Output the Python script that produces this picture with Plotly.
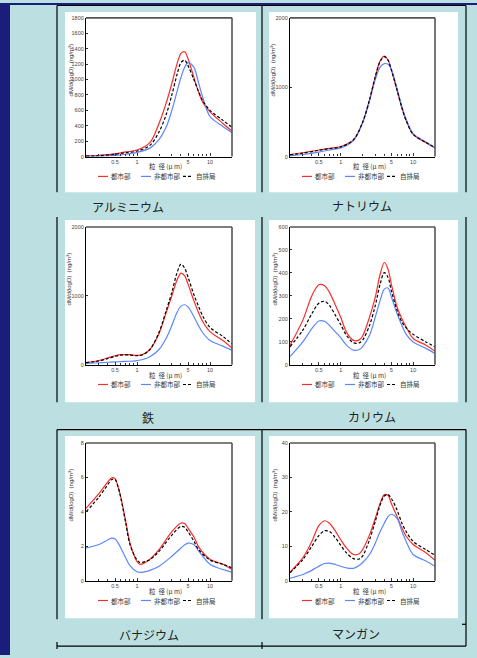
import math
import plotly.graph_objects as go

# ---------------- data: mass size distributions dM/d(logD) ----------------
# Aluminium
AL_D = [0.2, 0.3, 0.5, 0.7, 1, 1.5, 2, 2.5, 3, 3.5, 4, 4.5, 5, 6, 7, 8, 10, 15, 20]
AL_URBAN = [8, 16, 35, 60, 85, 180, 430, 690, 950, 1190, 1340, 1360, 1270, 1030, 830, 700, 580, 430, 330]
AL_RURAL = [2, 6, 15, 30, 55, 110, 220, 380, 600, 830, 1030, 1160, 1220, 1160, 950, 760, 520, 390, 310]
AL_ROADSIDE = [6, 12, 30, 50, 72, 145, 320, 540, 800, 1050, 1220, 1250, 1180, 1000, 840, 720, 600, 470, 380]

# Sodium
NA_D = [0.2, 0.3, 0.5, 0.7, 1, 1.5, 2, 2.5, 3, 3.5, 4, 4.5, 5, 6, 7, 8, 10, 15, 20]
NA_URBAN = [30, 55, 95, 120, 145, 240, 490, 820, 1150, 1380, 1450, 1390, 1250, 950, 700, 520, 320, 200, 125]
NA_RURAL = [10, 30, 65, 95, 125, 230, 480, 800, 1110, 1290, 1340, 1330, 1260, 980, 720, 540, 330, 210, 130]
NA_ROADSIDE = [25, 50, 90, 115, 140, 240, 490, 820, 1150, 1370, 1440, 1390, 1250, 960, 700, 520, 320, 205, 130]

# Iron
FE_D = [0.2, 0.3, 0.4, 0.5, 0.6, 0.8, 1, 1.2, 1.5, 2, 2.5, 3, 3.5, 4, 4.5, 5, 6, 7, 8, 10, 15, 20]
FE_URBAN = [30, 60, 100, 130, 145, 145, 135, 150, 220, 450, 750, 1000, 1220, 1330, 1290, 1170, 930, 750, 620, 480, 350, 240]
FE_RURAL = [20, 28, 35, 40, 45, 50, 60, 75, 115, 220, 380, 570, 750, 850, 870, 840, 700, 560, 460, 350, 270, 210]
FE_ROADSIDE = [30, 55, 90, 120, 140, 140, 130, 145, 220, 470, 780, 1050, 1320, 1460, 1400, 1270, 1020, 840, 700, 540, 410, 300]

# Potassium
K_D = [0.2, 0.3, 0.4, 0.5, 0.6, 0.7, 0.85, 1, 1.2, 1.5, 1.8, 2, 2.5, 3, 3.5, 4, 4.5, 5, 6, 7, 8, 10, 15, 20]
K_URBAN = [85, 193, 300, 348, 344, 315, 258, 207, 142, 106, 108, 124, 207, 294, 394, 445, 416, 351, 250, 200, 164, 114, 85, 59]
K_RURAL = [35, 99, 157, 190, 189, 171, 142, 118, 85, 63, 66, 78, 128, 207, 279, 329, 334, 296, 222, 171, 132, 99, 71, 49]
K_ROADSIDE = [78, 150, 222, 268, 276, 258, 214, 175, 128, 95, 95, 106, 171, 257, 351, 401, 380, 322, 236, 186, 160, 132, 99, 78]

# Vanadium
V_D = [0.2, 0.3, 0.4, 0.45, 0.5, 0.55, 0.6, 0.7, 0.8, 1, 1.1, 1.5, 2, 3, 4, 4.5, 5, 6, 7, 10, 15, 20]
V_URBAN = [4.2, 5.05, 5.75, 5.98, 5.93, 5.45, 4.85, 3.45, 2.2, 1.1, 0.95, 1.25, 1.8, 2.85, 3.35, 3.32, 3.05, 2.55, 1.95, 1.25, 0.95, 0.65]
V_RURAL = [1.9, 2.1, 2.38, 2.47, 2.42, 2.2, 1.9, 1.32, 0.88, 0.52, 0.48, 0.6, 0.84, 1.42, 1.9, 2.08, 2.18, 2.1, 1.72, 0.95, 0.65, 0.5]
V_ROADSIDE = [4.0, 4.85, 5.6, 5.88, 5.88, 5.45, 4.8, 3.35, 2.1, 1.2, 1.05, 1.23, 1.7, 2.65, 3.15, 3.1, 2.85, 2.3, 1.8, 1.2, 0.95, 0.75]

# Manganese
MN_D = [0.2, 0.3, 0.4, 0.5, 0.6, 0.7, 0.85, 1, 1.2, 1.5, 1.8, 2, 2.5, 3, 3.5, 4, 4.5, 5, 6, 7, 8, 10, 15, 20]
MN_URBAN = [2.5, 6.6, 11.4, 16.0, 17.4, 16.7, 14.3, 11.9, 9.5, 7.6, 7.8, 9.0, 13.3, 18.1, 22.4, 25.0, 24.8, 22.4, 18.6, 15.3, 12.9, 10.5, 8.1, 5.9]
MN_RURAL = [0.7, 1.8, 3.0, 4.2, 5.0, 5.1, 4.7, 4.2, 3.7, 3.6, 4.4, 5.2, 7.6, 10.9, 14.3, 16.7, 18.6, 19.3, 18.1, 14.3, 11.4, 7.6, 5.7, 4.2]
MN_ROADSIDE = [2.3, 6.1, 10.0, 13.1, 14.5, 14.3, 12.4, 10.3, 8.1, 6.4, 6.3, 7.1, 11.9, 17.2, 22.0, 24.6, 25.0, 23.9, 20.5, 16.7, 14.3, 11.4, 9.0, 7.4]

ELEMENT_NAMES = ["アルミニウム", "ナトリウム", "鉄", "カリウム", "バナジウム", "マンガン"]
Y_MAX = [1800, 2000, 2000, 600, 8, 40]
Y_STEP = [200, 1000, 1000, 100, 2, 10]
SERIES_NAMES = ["都市部", "非都市部", "自排局"]
X_TICKS = [0.5, 1, 5, 10]
X_MINOR = [0.3, 0.4, 0.6, 0.7, 0.8, 0.9, 2, 3, 4, 6, 7, 8, 9]
X_TITLE = "粒  径 (μ m)"
Y_TITLE = "dM/d(logD)  (ng/m<sup>3</sup>)"

DIAMETERS = [AL_D, NA_D, FE_D, K_D, V_D, MN_D]
URBAN = [AL_URBAN, NA_URBAN, FE_URBAN, K_URBAN, V_URBAN, MN_URBAN]
RURAL = [AL_RURAL, NA_RURAL, FE_RURAL, K_RURAL, V_RURAL, MN_RURAL]
ROADSIDE = [AL_ROADSIDE, NA_ROADSIDE, FE_ROADSIDE, K_ROADSIDE, V_ROADSIDE, MN_ROADSIDE]

# ---------------- page geometry (pixels) ----------------
W, H = 477, 658
BG = "#bce0e2"
NAVY = "#1b1d7a"
RED = "#ff2a2a"
BLUE = "#5a86ff"
JP = "Noto Sans CJK JP"
NUM = "Liberation Sans, Arial"
DASH = "3px,2px"

PLOT_BOX = [(86, 232, 15, 155), (290, 435, 15, 155),
            (86, 232, 226, 365), (290, 435, 226, 365),
            (86, 232, 444, 583), (290, 435, 444, 583)]
CARD_BOX = [(65, 256, 9, 191), (269, 458, 9, 191),
            (65, 255, 219, 403), (269, 458, 219, 403),
            (65, 255, 437, 621), (269, 458, 437, 621)]
NAME_POS = [(128, 205), (362, 204), (148, 418), (372, 417), (149, 637), (356, 636)]
YTITLE_X = [71, 273, 69, 275, 71, 275]


def fx(x):
    return x / W


def fy(y):
    return 1 - y / H


fig = go.Figure()
shapes = []
annotations = []

# background decorations
shapes.append(dict(type="rect", xref="paper", yref="paper", x0=0, x1=fx(10), y0=0, y1=1,
                   fillcolor=NAVY, line_width=0, layer="below"))
shapes.append(dict(type="rect", xref="paper", yref="paper", x0=0, x1=1, y0=fy(2), y1=1,
                   fillcolor=NAVY, line_width=0, layer="below"))


def seg(x0, y0, x1, y1, color="black", width=1.2, dash=None, layer="above"):
    d = dict(type="line", xref="paper", yref="paper", x0=fx(x0), y0=fy(y0), x1=fx(x1), y1=fy(y1),
             line=dict(color=color, width=width), layer=layer)
    if dash:
        d["line"]["dash"] = dash
    shapes.append(d)


# table rules
seg(57, 2.5, 466, 2.5)
seg(57, 430.5, 466, 430.5)
seg(57, 649, 466, 649)
for xv in (57, 262):
    for a, b in [(2.5, 191), (216, 403), (430.5, 622), (645, 652)]:
        seg(xv, a, xv, b)
for a, b in [(2.5, 191), (216, 403), (430.5, 649)]:
    seg(466, a, 466, b)
seg(462, 627, 466, 627)

# white cards
for (x0, x1, y0, y1) in CARD_BOX:
    shapes.append(dict(type="rect", xref="paper", yref="paper", x0=fx(x0), x1=fx(x1),
                       y0=fy(y1), y1=fy(y0), fillcolor="white", line_width=0, layer="below"))

for i in range(6):
    n = i + 1
    xa = "x" if n == 1 else f"x{n}"
    ya = "y" if n == 1 else f"y{n}"
    d = DIAMETERS[i]
    for vals, color, dash, name in [(URBAN[i], RED, "solid", SERIES_NAMES[0]),
                                    (RURAL[i], BLUE, "solid", SERIES_NAMES[1]),
                                    (ROADSIDE[i], "black", DASH, SERIES_NAMES[2])]:
        fig.add_trace(go.Scatter(
            x=d, y=vals, mode="lines", name=name, showlegend=False,
            line=dict(color=color, width=1.2, dash=dash, shape="spline", smoothing=0.9),
            xaxis=xa, yaxis=ya, hoverinfo="skip"))

    x0, x1, y0, y1 = PLOT_BOX[i]
    kx = "xaxis" if n == 1 else f"xaxis{n}"
    ky = "yaxis" if n == 1 else f"yaxis{n}"
    fig.layout[kx] = dict(
        type="log", domain=[fx(x0), fx(x1)], anchor=ya,
        range=[math.log10(0.2), math.log10(20)],
        showline=True, linecolor="black", linewidth=1.2, mirror=False,
        ticks="inside", ticklen=3, tickwidth=1, tickcolor="#333",
        tickmode="array", tickvals=X_TICKS, ticktext=[str(t) for t in X_TICKS],
        minor=dict(tickmode="array", tickvals=X_MINOR, ticks="inside", ticklen=2,
                   tickwidth=1, tickcolor="#333", showgrid=False),
        tickfont=dict(size=5.5, color="#444", family=NUM),
        showgrid=False, zeroline=False, fixedrange=True)
    fig.layout[ky] = dict(
        domain=[fy(y1), fy(y0)], anchor=xa, range=[0, Y_MAX[i]],
        tick0=0, dtick=Y_STEP[i],
        showline=True, linecolor="black", linewidth=1.2, mirror=False,
        ticks="inside", ticklen=2, tickwidth=1, tickcolor="#333",
        tickfont=dict(size=5.5, color="#444", family=NUM),
        showgrid=False, zeroline=False, fixedrange=True)

    # top and right frame of the plot area
    seg(x0, y0, x1, y0, color="#555", width=1.6)
    seg(x1, y0, x1, y1, color="#555", width=1.6)

    # axis titles
    annotations.append(dict(xref="paper", yref="paper", x=fx(x0 + 79), y=fy(y1 + 10),
                            text=X_TITLE, showarrow=False, xanchor="center", yanchor="middle",
                            font=dict(size=6.5, color="#333", family=JP)))
    annotations.append(dict(xref="paper", yref="paper", x=fx(YTITLE_X[i]), y=fy(y0 + 53),
                            text=Y_TITLE, showarrow=False, textangle=-90,
                            xanchor="center", yanchor="middle",
                            font=dict(size=6, color="#333", family=NUM)))

    # legend
    ly = y1 + 20
    for off, color, dash, name in [(12, RED, None, SERIES_NAMES[0]),
                                   (55, BLUE, None, SERIES_NAMES[1]),
                                   (97, "black", DASH, SERIES_NAMES[2])]:
        seg(x0 + off, ly, x0 + off + 10, ly, color=color, width=1.2, dash=dash)
        annotations.append(dict(xref="paper", yref="paper", x=fx(x0 + off + 10.5), y=fy(ly),
                                text=name, showarrow=False, xanchor="left", yanchor="middle",
                                font=dict(size=6.5, color="#333", family=JP)))

    # element name below the card
    nx, ny = NAME_POS[i]
    annotations.append(dict(xref="paper", yref="paper", x=fx(nx), y=fy(ny),
                            text=ELEMENT_NAMES[i], showarrow=False,
                            xanchor="center", yanchor="middle",
                            font=dict(size=12, color="#222", family=JP)))

fig.update_layout(
    width=W, height=H, margin=dict(l=0, r=0, t=0, b=0),
    paper_bgcolor=BG, plot_bgcolor="rgba(0,0,0,0)",
    showlegend=False, shapes=shapes, annotations=annotations)

fig.write_html("out.html")
